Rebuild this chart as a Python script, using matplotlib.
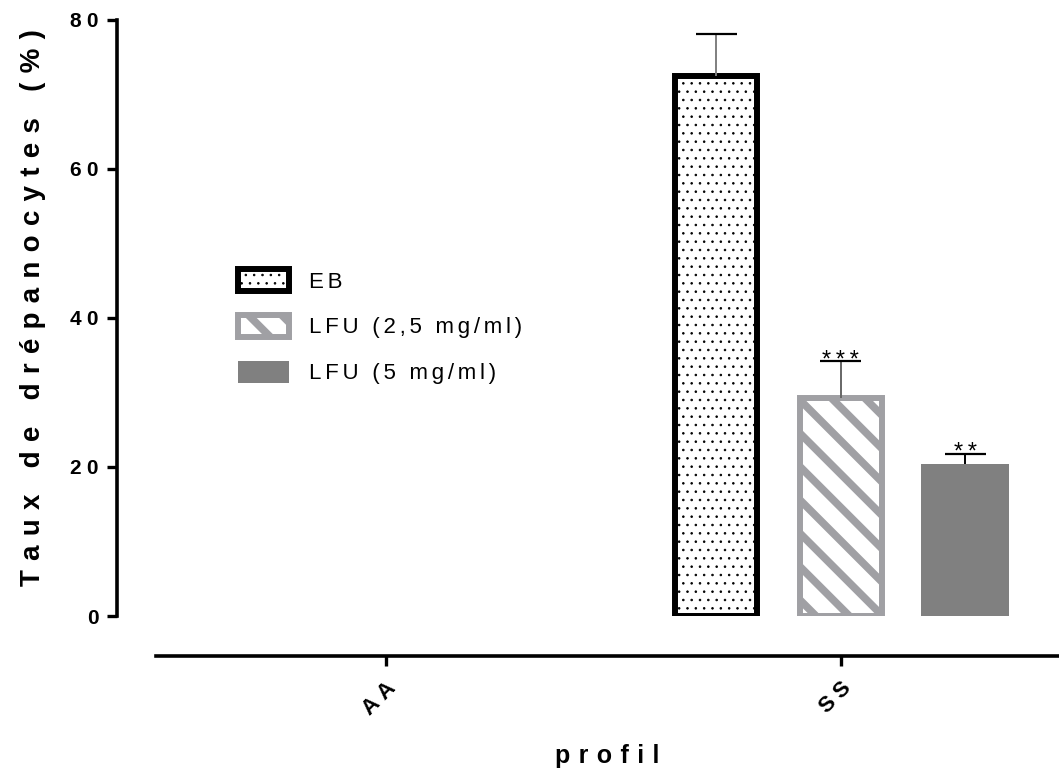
import matplotlib.pyplot as plt
import matplotlib as mpl

plt.rcParams['font.family'] = ['Liberation Sans', 'DejaVu Sans']

# data (only the SS profile has values)
profils = ['AA', 'SS']
groupes = ['EB', 'LFU (2,5 mg/ml)', 'LFU (5 mg/ml)']
moyennes_ss = [72.5, 29.2, 20.4]
erreurs_ss = [5.6, 5.0, 1.4]
signif_ss = ['', '***', '**']
yticks = [0, 20, 40, 60, 80]

# styles
decalages = [-0.274, 0.0, 0.273]
largeurs = [0.181, 0.181, 0.194]
faces = ['white', 'white', '#808080']
bords = ['black', '#a0a0a4', '#808080']
epaisseurs = [4.3, 4.3, 0]
hachures = ['..', '\\', None]
hatch_lw = [0.6, 5.5, 1.0]
couleurs_err = ['#7f7f7f', '#666666', 'black']


def espace(s, sep='\u2004'):
    # GraphPad-like letter spacing
    return sep.join(s)


fig = plt.figure(figsize=(10.59, 7.81), dpi=100)
ax = fig.add_axes([156 / 1059, 165 / 781, 902 / 1059, 596 / 781])
ax.set_xlim(-0.505, 1.477)
ax.set_ylim(0, 80)

i_ss = profils.index('SS')
for k in range(len(groupes)):
    x = i_ss + decalages[k]
    with mpl.rc_context({'hatch.linewidth': hatch_lw[k]}):
        b = ax.bar(x, moyennes_ss[k], width=largeurs[k], color=faces[k],
                   edgecolor=bords[k], linewidth=epaisseurs[k],
                   hatch=hachures[k], label=espace(groupes[k], '\u2006'),
                   zorder=2)
    if hasattr(b[0], 'set_hatch_linewidth'):
        b[0].set_hatch_linewidth(hatch_lw[k])

    haut = moyennes_ss[k] + erreurs_ss[k]
    ax.vlines(x, moyennes_ss[k], haut, color=couleurs_err[k],
              linewidth=1.4, zorder=3)
    ax.hlines(haut, x - 0.045, x + 0.045, color='black', linewidth=1.6,
              zorder=3)
    if signif_ss[k]:
        ax.annotate(espace(signif_ss[k], '\u2009'), (x, haut), xytext=(0, -4),
                    textcoords='offset points', ha='center', va='baseline',
                    fontsize=17)

# axes
for s in ['top', 'right']:
    ax.spines[s].set_visible(False)
ax.spines['left'].set_position(('outward', 28))
ax.spines['left'].set_bounds(0, 80)
ax.spines['bottom'].set_position(('outward', 29))
ax.spines['left'].set_linewidth(2.6)
ax.spines['bottom'].set_linewidth(2.6)

ax.set_yticks(yticks)
ax.set_yticklabels([espace(str(v), '\u2005') for v in yticks], fontsize=15,
                   fontweight='bold')
ax.set_xticks(range(len(profils)))
ax.set_xticklabels([espace(p, '\u2005') for p in profils], fontsize=16,
                   fontweight='bold', rotation=45, ha='right', va='top',
                   rotation_mode='anchor')
ax.tick_params(axis='both', length=7.5, width=2.4, direction='out')
ax.tick_params(axis='y', pad=6)
ax.tick_params(axis='x', pad=8)

ax.set_ylabel(espace('Taux de drépanocytes (%)'), fontsize=20,
              fontweight='bold')
ax.yaxis.set_label_coords(-0.122, 0.517)
ax.set_xlabel(espace('profil'), fontsize=18, fontweight='bold', labelpad=18)

leg = ax.legend(loc='upper left', bbox_to_anchor=(238 / 1059, 1 - 269 / 781),
                bbox_transform=fig.transFigure, frameon=False, borderpad=0,
                borderaxespad=0, fontsize=16, handlelength=2.3,
                handleheight=1.15, handletextpad=0.9, labelspacing=1.0)
for p, lw in zip(leg.get_patches(), hatch_lw):
    if hasattr(p, 'set_hatch_linewidth'):
        p.set_hatch_linewidth(lw)

fig.savefig('out.png', dpi=100)
